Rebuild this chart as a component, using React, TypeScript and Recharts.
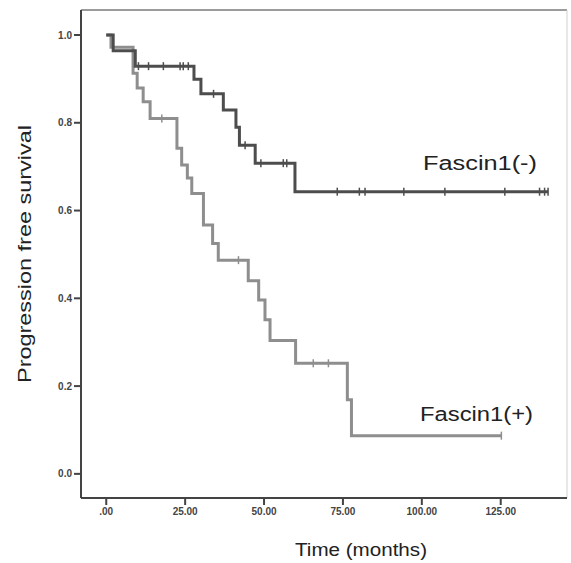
import { LineChart, Line, XAxis, YAxis, ReferenceLine } from 'recharts';

// Fascin1(-) : step times (months) and survival after each step
const negTimes = [0, 2.2, 9.2, 27.8, 30.0, 37.1, 41.1, 42.2, 47.2, 59.8];
const negSurv = [1.0, 0.964, 0.929, 0.899, 0.866, 0.829, 0.79, 0.749, 0.708, 0.643];
const negCensored = [10.2, 13.4, 18.1, 23.4, 24.4, 26.0, 34.0, 44.0, 49.0, 56.1, 57.2, 73.2, 80.2, 82.0, 94.3, 107.3, 126.3, 137.3, 138.9, 140.0];

// Fascin1(+)
const posTimes = [0, 1.5, 8.5, 9.8, 11.7, 13.9, 22.4, 23.9, 25.7, 27.1, 30.8, 33.7, 35.5, 45.0, 48.3, 50.3, 51.9, 60.0, 76.4, 77.7];
const posSurv = [1.0, 0.972, 0.913, 0.879, 0.848, 0.81, 0.742, 0.704, 0.674, 0.639, 0.567, 0.525, 0.487, 0.44, 0.396, 0.351, 0.304, 0.252, 0.169, 0.087];
const posCensored = [17.6, 41.9, 65.6, 70.4, 125.2];

const xTicks = [0, 25, 50, 75, 100, 125];
const yTicks = [0, 0.2, 0.4, 0.6, 0.8, 1.0];
const xDomain = [-8, 146];
const yDomain = [-0.055, 1.057];

type Pt = { t: number; s: number; c: boolean };

function buildCurve(times: number[], surv: number[], censored: number[]): Pt[] {
  const pts: Pt[] = times.map((t, i) => ({ t, s: surv[i], c: false }));
  censored.forEach((t) => {
    let s = surv[0];
    times.forEach((tt, i) => {
      if (tt <= t) s = surv[i];
    });
    pts.push({ t, s, c: true });
  });
  return pts.sort((a, b) => a.t - b.t);
}

const negData = buildCurve(negTimes, negSurv, negCensored);
const posData = buildCurve(posTimes, posSurv, posCensored);

const DARK = '#4d4d4d';
const LIGHT = '#8e8e8e';

const censorDot = (color: string) => (props: any) => {
  const { cx, cy, payload, index } = props;
  if (!payload || !payload.c) return <g key={index} />;
  return (
    <line key={index} x1={cx} x2={cx} y1={cy - 4} y2={cy + 4} stroke={color} strokeWidth={1.5} />
  );
};

const tickStyle = { fill: '#444', fontSize: 10, fontFamily: 'Liberation Sans, Arial', fontWeight: 'bold' as const };
const titleFont = 'Liberation Sans, Arial';

export default function App() {
  return (
    <div style={{ position: 'absolute', left: 0, top: 0, width: 571, height: 563, background: '#fff' }}>
      <LineChart width={571} height={563} margin={{ top: 10, right: 4, left: 0, bottom: 0 }}>
        <XAxis
          dataKey='t'
          type='number'
          domain={xDomain}
          ticks={xTicks}
          allowDataOverflow
          tickFormatter={(v: number) => (v === 0 ? '.00' : v.toFixed(2))}
          height={65}
          tickSize={7}
          tickMargin={3}
          tick={tickStyle}
          stroke='#444'
          strokeWidth={2}
        />
        <YAxis
          type='number'
          domain={yDomain}
          ticks={yTicks}
          allowDataOverflow
          tickFormatter={(v: number) => v.toFixed(1)}
          width={81}
          tickSize={7}
          tickMargin={2}
          tick={tickStyle}
          stroke='#444'
          strokeWidth={2}
        />
        {/* plot frame: top and right edges */}
        <ReferenceLine y={yDomain[1]} stroke='#7a7a7a' strokeWidth={1.5} ifOverflow='visible' />
        <ReferenceLine x={xDomain[1]} stroke='#d0d0d0' strokeWidth={1} ifOverflow='visible' />
        <Line
          data={posData}
          dataKey='s'
          type='stepAfter'
          stroke={LIGHT}
          strokeWidth={3}
          dot={censorDot(LIGHT)}
          activeDot={false}
          isAnimationActive={false}
        />
        <Line
          data={negData}
          dataKey='s'
          type='stepAfter'
          stroke={DARK}
          strokeWidth={3}
          dot={censorDot(DARK)}
          activeDot={false}
          isAnimationActive={false}
        />
        <text x={423} y={170} fontSize={20} fontFamily={titleFont} fill='#222' textLength={114} lengthAdjust='spacingAndGlyphs'>
          Fascin1(-)
        </text>
        <text x={420} y={421} fontSize={20} fontFamily={titleFont} fill='#222' textLength={113} lengthAdjust='spacingAndGlyphs'>
          Fascin1(+)
        </text>
        <text x={295} y={556} fontSize={18} fontFamily={titleFont} fill='#222' textLength={132} lengthAdjust='spacingAndGlyphs'>
          Time (months)
        </text>
        <text
          x={31}
          y={254}
          fontSize={18}
          fontFamily={titleFont}
          fill='#222'
          textAnchor='middle'
          transform='rotate(-90 31 254)'
          textLength={258}
          lengthAdjust='spacingAndGlyphs'
        >
          Progression free survival
        </text>
      </LineChart>
    </div>
  );
}
